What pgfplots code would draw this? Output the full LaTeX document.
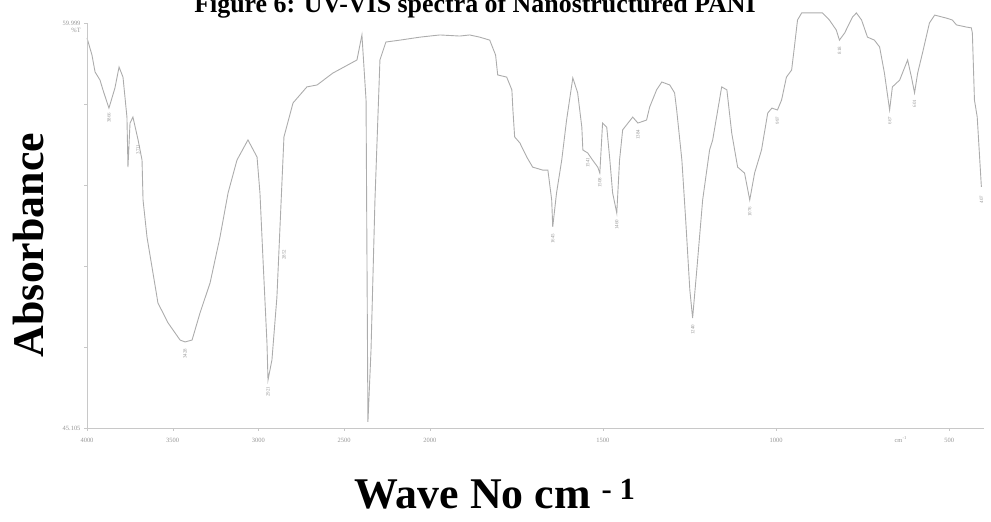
\documentclass[border=0pt]{standalone}
\usepackage{fontspec}
\setmainfont{Liberation Serif}
\usepackage{pgfplots}
\pgfplotsset{compat=1.18}

\definecolor{spec}{RGB}{172,172,172}
\definecolor{axgray}{RGB}{200,200,200}
\definecolor{lblgray}{RGB}{150,150,150}

% wavenumber axis: 4000-2000 at one scale, 2000-400 at about twice that
\pgfplotsset{
  ftir x/.style={
    x coord trafo/.code={\pgfmathparse{##1>=2000 ? (4000-##1)/500 : 4+2.02*(2000-##1)/500}},
  },
}
\tikzset{
  peak/.style={rotate=90, anchor=east, text=lblgray, inner sep=0.5bp,
    font=\fontsize{5}{5}\selectfont},
}

\begin{document}
\begin{tikzpicture}
\begin{axis}[
  ftir x,
  at={(87bp,94bp)}, anchor=south west,
  scale only axis, width=896.8bp, height=418.6bp,
  xmin=4000, xmax=400, ymin=45.105, ymax=60.5,
  axis x line*=bottom, axis y line*=left,
  x axis line style={-, draw=axgray},
  y axis line style={draw=none},
  xtick={4000,3500,3000,2500,2000,1500,1000,500},
  xticklabels={4000,3500,3000,2500,2000,1500,1000,500},
  ytick={45.105,48.084,51.063,54.041,57.020,59.999},
  yticklabels={45.105,,,,,59.999},
  tick align=outside, major tick length=3bp,
  tick style={draw=axgray},
  ticklabel style={text=lblgray, font=\fontsize{6.5}{6.5}\selectfont},
  xticklabel style={yshift=-4bp},
  clip=false,
]
\addplot[spec, line width=0.9bp] coordinates {
  (4000,59.45) (3971,58.82) (3953,58.20) (3924,57.90) (3907,57.54) (3872,56.87)
  (3837,57.61) (3813,58.38) (3790,58.01) (3767,56.54) (3761,54.70) (3749,56.32)
  (3732,56.54) (3702,55.70) (3679,54.96) (3673,53.49) (3650,52.13) (3621,51.03)
  (3586,49.70) (3527,48.97) (3457,48.34) (3428,48.27) (3387,48.34) (3341,49.33)
  (3282,50.44) (3224,52.13) (3177,53.75) (3125,54.96) (3061,55.70) (3008,55.07)
  (2991,53.75) (2973,51.28) (2950,48.23) (2944,46.87) (2921,47.61) (2892,49.92)
  (2851,55.81) (2798,57.06) (2717,57.65) (2658,57.72) (2565,58.16) (2425,58.64)
  (2396,59.56) (2372,57.17) (2361,45.33) (2343,47.97) (2320,53.49) (2291,58.64)
  (2256,59.30) (2174,59.37) (2057,59.48) (2000,59.52) (1971,59.56) (1913,59.52)
  (1885,59.56) (1856,59.48) (1827,59.37) (1810,58.82) (1804,58.09) (1778,58.01)
  (1763,57.54) (1760,56.80) (1755,55.81) (1740,55.59) (1720,55.07) (1703,54.70)
  (1674,54.59) (1659,54.59) (1648,53.49) (1645,52.50) (1634,53.75) (1619,54.96)
  (1605,56.43) (1587,57.98) (1573,57.43) (1561,56.17) (1558,55.33) (1544,55.22)
  (1530,54.96) (1515,54.70) (1509,54.48) (1501,56.32) (1489,56.17) (1480,54.96)
  (1472,53.75) (1460,53.01) (1452,54.96) (1443,56.07) (1414,56.54) (1399,56.32)
  (1374,56.43) (1365,56.91) (1345,57.54) (1330,57.83) (1307,57.72) (1293,57.43)
  (1287,56.80) (1272,54.96) (1261,52.76) (1249,50.18) (1241,49.15) (1229,50.91)
  (1212,53.49) (1192,55.33) (1183,55.70) (1157,57.65) (1142,57.54) (1128,55.95)
  (1111,54.70) (1091,54.48) (1076,53.49) (1062,54.48) (1042,55.33) (1024,56.69)
  (1012,56.87) (996,56.80) (984,57.17) (970,58.01) (955,58.27) (947,59.12)
  (938,60.11) (926,60.37) (866,60.37) (846,60.11) (826,59.74) (817,59.37)
  (802,59.63) (779,60.22) (768,60.37) (753,60.11) (736,59.48) (716,59.37)
  (701,59.12) (687,58.16) (672,56.80) (664,57.65) (643,57.90) (620,58.64)
  (609,58.01) (600,57.43) (591,58.16) (577,58.90) (557,60.00) (542,60.29)
  (508,60.18) (491,60.11) (479,59.93) (450,59.85) (436,59.82) (433,59.63)
  (427,57.17) (419,56.54) (407,53.97)
};
% left axis line only spans the labelled range
\draw[axgray] (axis cs:4000,45.105) -- (axis cs:4000,59.999);
\node[anchor=north east, text=lblgray, font=\fontsize{6.5}{6.5}\selectfont,
  inner sep=1bp] at ([xshift=-5bp,yshift=-4bp]axis cs:4000,59.999) {\%T};
\node[anchor=north, text=lblgray, font=\fontsize{6.5}{6.5}\selectfont]
  at ([yshift=-5bp]axis cs:640,45.105) {cm\textsuperscript{-1}};
% peak labels
\node[peak] at ([yshift=-6bp]axis cs:3428,48.27) {3428};
\node[peak] at ([yshift=-6bp]axis cs:2944,46.87) {2921};
\node[peak] at ([yshift=-3bp]axis cs:2851,51.80) {2852};
\node[peak] at ([yshift=-4bp]axis cs:3872,56.87) {3866};
\node[peak] at ([yshift=-4bp]axis cs:3702,55.70) {3711};
\node[peak] at ([yshift=-6bp]axis cs:1645,52.50) {1645};
\node[peak] at ([yshift=-4bp]axis cs:1544,55.22) {1541};
\node[peak] at ([yshift=-4bp]axis cs:1509,54.48) {1508};
\node[peak] at ([yshift=-6bp]axis cs:1460,53.01) {1460};
\node[peak] at ([yshift=-6bp]axis cs:1399,56.32) {1384};
\node[peak] at ([yshift=-6bp]axis cs:1241,49.15) {1240};
\node[peak] at ([yshift=-6bp]axis cs:1076,53.49) {1076};
\node[peak] at ([yshift=-6bp]axis cs:996,56.80) {997};
\node[peak] at ([yshift=-6bp]axis cs:817,59.37) {818};
\node[peak] at ([yshift=-6bp]axis cs:672,56.80) {667};
\node[peak] at ([yshift=-6bp]axis cs:600,57.43) {601};
\node[peak] at ([yshift=-8bp]axis cs:407,53.97) {407};
\end{axis}
\pgfresetboundingbox
\path[use as bounding box] (0,0) rectangle (991bp,522bp);
\node[anchor=base, font=\fontsize{26}{26}\bfseries] at (475bp,509bp)
  {Figure 6: UV-VIS spectra of Nanostructured PANI};
\node[anchor=base, rotate=90, font=\fontsize{44}{44}\bfseries] at (43bp,277bp)
  {Absorbance};
\node[anchor=base, font=\fontsize{44}{44}\bfseries] at (495bp,14bp)
  {Wave No cm \textsuperscript{- 1}};
\end{tikzpicture}
\end{document}
